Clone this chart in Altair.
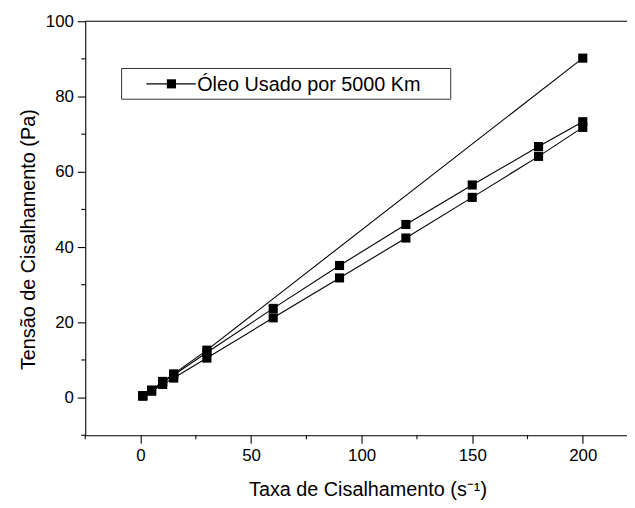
import altair as alt
import pandas as pd

# ---- data ----
rate_full = [1, 5, 10, 15, 30, 60, 90, 120, 150, 180, 200]
rate_top = [1, 5, 10, 15, 30, 200]
stress_top = [0.5, 2.0, 4.3, 6.3, 12.6, 90.2]
stress_mid = [0.5, 1.9, 4.0, 6.0, 12.0, 23.7, 35.1, 46.0, 56.5, 66.7, 73.3]
stress_low = [0.4, 1.7, 3.5, 5.2, 10.5, 21.2, 31.8, 42.4, 53.2, 64.1, 71.8]

legend_label = ["Óleo Usado por 5000 Km"]

x_major = [0, 50, 100, 150, 200]
x_minor = [-25, 25, 75, 125, 175]
y_major = [0, 20, 40, 60, 80, 100]
y_minor = [-10, 10, 30, 50, 70, 90]

rows = []
for xv, yv in zip(rate_top, stress_top):
    rows.append({"series": "A", "x": xv, "y": yv})
for xv, yv in zip(rate_full, stress_mid):
    rows.append({"series": "B", "x": xv, "y": yv})
for xv, yv in zip(rate_full, stress_low):
    rows.append({"series": "C", "x": xv, "y": yv})
df = pd.DataFrame(rows)
leg = pd.DataFrame({"label": legend_label})
xm = pd.DataFrame({"x": x_minor})
ym = pd.DataFrame({"y": y_minor})

W, H = 547, 418
FONT = "Liberation Sans"

xscale = alt.Scale(domain=[-25, 220], nice=False, zero=False)
yscale = alt.Scale(domain=[-10, 100], nice=False, zero=False)

x_axis = alt.Axis(
    values=x_major,
    tickSize=8,
    title="Taxa de Cisalhamento (s⁻¹)",
    titleX=285,
    labelPadding=5,
    titlePadding=16,
)
y_axis = alt.Axis(
    values=y_major,
    tickSize=8,
    title="Tensão de Cisalhamento (Pa)",
    titleY=220,
    labelPadding=4,
    titlePadding=7,
)
x_enc = alt.X("x:Q", scale=xscale, axis=x_axis)
y_enc = alt.Y("y:Q", scale=yscale, axis=y_axis)

lines = alt.Chart(df).mark_line(color="black", strokeWidth=1.1).encode(
    x=x_enc, y=y_enc, detail="series:N", order="x:Q"
)
points = alt.Chart(df).mark_point(
    shape="square", filled=True, size=85, color="black", opacity=1
).encode(x=x_enc, y=y_enc)

x_minor_ticks = alt.Chart(xm).mark_rule(color="black", strokeWidth=1.1).encode(
    x=x_enc, y=alt.value(H), y2=alt.value(H + 4)
)
y_minor_ticks = alt.Chart(ym).mark_rule(color="black", strokeWidth=1.1).encode(
    y=y_enc, x=alt.value(-4), x2=alt.value(0)
)

top_line = alt.Chart(leg).mark_rule(color="black", strokeWidth=1.1).encode(
    x=alt.value(0), x2=alt.value(W), y=alt.value(0)
)

leg_box = alt.Chart(leg).mark_rect(fill="white", stroke="#333", strokeWidth=1).encode(
    x=alt.value(36.7), x2=alt.value(369), y=alt.value(47.7), y2=alt.value(78.7)
)
leg_line = alt.Chart(leg).mark_rule(color="black", strokeWidth=1.1).encode(
    x=alt.value(61.7), x2=alt.value(111.7), y=alt.value(63.2)
)
leg_pt = alt.Chart(leg).mark_point(
    shape="square", filled=True, size=85, color="black", opacity=1
).encode(x=alt.value(87), y=alt.value(63.2))
leg_text = alt.Chart(leg).mark_text(
    align="left", baseline="middle", fontSize=20, font=FONT, color="black"
).encode(x=alt.value(113), y=alt.value(64), text="label:N")

chart = (
    alt.layer(lines, points, x_minor_ticks, y_minor_ticks, top_line,
              leg_box, leg_line, leg_pt, leg_text)
    .properties(
        width=W,
        height=H,
        autosize=alt.AutoSizeParams(type="none"),
        padding={"left": 78, "top": 11, "right": 0, "bottom": 63},
        background="white",
    )
    .configure_view(stroke=None)
    .configure_axis(
        grid=False,
        domainColor="black",
        domainWidth=1.1,
        tickColor="black",
        tickWidth=1.1,
        labelColor="black",
        titleColor="black",
        labelFont=FONT,
        titleFont=FONT,
        labelFontSize=17,
        titleFontSize=20,
        titleFontWeight="normal",
    )
)

chart.save("out.html", embed_options={"renderer": "svg", "actions": False})
